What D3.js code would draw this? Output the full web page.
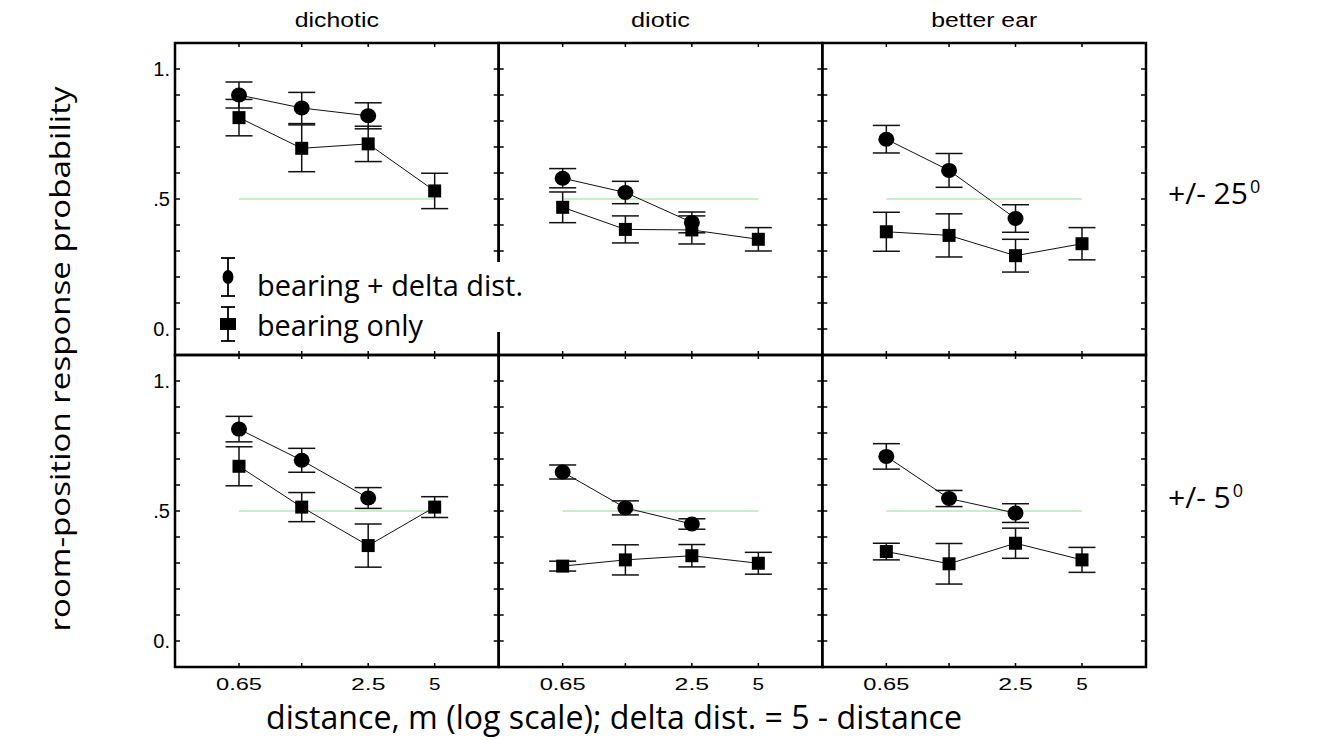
<!DOCTYPE html>
<html lang="en">
<head>
<meta charset="utf-8">
<title>room-position response probability</title>
<script src="https://d3js.org/d3.v7.min.js"></script>
<style>
  body { margin: 0; background: #fff; }
  .tick-label { font-family: "Liberation Sans", Arial, sans-serif; fill: #000; }
  .big { font-family: "Open Sans", sans-serif; fill: #000; }
</style>
</head>
<body>
<svg width="1321" height="740"></svg>
<script>
  // categories
  var distances = [0.65, 1.25, 2.5, 5];
  var distLabels = ["0.65", "", "2.5", "5"];
  var columns = ["dichotic", "diotic", "better ear"];
  var rowLabels = ["+/- 25", "+/- 5"];
  var yTickLabels = ["1.", ".5", "0."];

  // bearing + delta dist. (circles, no point at 5 m) : [dichotic, diotic, better ear]
  var deltaMean25 = [[0.90, 0.85, 0.82], [0.58, 0.525, 0.41], [0.73, 0.61, 0.425]];
  var deltaErr25  = [[0.05, 0.06, 0.05], [0.037, 0.043, 0.04], [0.053, 0.065, 0.053]];
  var deltaMean5  = [[0.815, 0.695, 0.55], [0.65, 0.512, 0.45], [0.71, 0.548, 0.492]];
  var deltaErr5   = [[0.049, 0.046, 0.04], [0.027, 0.027, 0.02], [0.049, 0.031, 0.036]];

  // bearing only (squares)
  var bearMean25 = [[0.813, 0.695, 0.712, 0.531], [0.468, 0.383, 0.381, 0.345], [0.374, 0.36, 0.282, 0.328]];
  var bearErr25  = [[0.07, 0.09, 0.068, 0.068], [0.059, 0.052, 0.054, 0.045], [0.075, 0.083, 0.063, 0.062]];
  var bearMean5  = [[0.672, 0.515, 0.367, 0.515], [0.288, 0.312, 0.328, 0.299], [0.344, 0.297, 0.376, 0.312]];
  var bearErr5   = [[0.075, 0.056, 0.083, 0.04], [0.019, 0.058, 0.043, 0.042], [0.032, 0.078, 0.058, 0.048]];

  var deltaMean = [deltaMean25, deltaMean5], deltaErr = [deltaErr25, deltaErr5];
  var bearMean = [bearMean25, bearMean5], bearErr = [bearErr25, bearErr5];

  var svg = d3.select("svg");

  var x0 = 175, y0 = 43;
  var pw = (1146 - 175) / 3, ph = 312;

  var x = d3.scaleLog().domain([0.65, 5]).range([64, pw - 64]);
  var y = d3.scaleLinear().domain([-0.1, 1.1]).range([ph, 0]);
  var yTicks = d3.range(0, 11).map(function(i) { return i / 10; });

  var line = d3.line()
    .x(function(d) { return x(d.d); })
    .y(function(d) { return y(d.v); });

  function points(means, errs) {
    return means.map(function(v, i) { return {d: distances[i], v: v, e: errs[i]}; });
  }

  for (var r = 0; r < 2; r++) {
    for (var c = 0; c < 3; c++) {
      var g = svg.append("g")
        .attr("transform", "translate(" + (x0 + c * pw) + "," + (y0 + r * ph) + ")");

      // chance line at .5
      g.append("line")
        .attr("x1", x(distances[0])).attr("x2", x(distances[3]))
        .attr("y1", y(0.5)).attr("y2", y(0.5))
        .attr("stroke", "#8ee38e").attr("stroke-width", 1);

      var sq = points(bearMean[r][c], bearErr[r][c]);
      var ci = points(deltaMean[r][c], deltaErr[r][c]);

      [sq, ci].forEach(function(pts) {
        g.append("path").datum(pts)
          .attr("d", line).attr("fill", "none")
          .attr("stroke", "#111").attr("stroke-width", 1);
        var eb = g.append("g").selectAll("g").data(pts).enter().append("g")
          .attr("stroke", "#111").attr("stroke-width", 1.5);
        eb.append("line")
          .attr("x1", function(d) { return x(d.d); }).attr("x2", function(d) { return x(d.d); })
          .attr("y1", function(d) { return y(d.v - d.e); }).attr("y2", function(d) { return y(d.v + d.e); });
        [-1, 1].forEach(function(s) {
          eb.append("line")
            .attr("x1", function(d) { return x(d.d) - 13.5; }).attr("x2", function(d) { return x(d.d) + 13.5; })
            .attr("y1", function(d) { return y(d.v + s * d.e); }).attr("y2", function(d) { return y(d.v + s * d.e); });
        });
      });

      g.append("g").selectAll("rect").data(sq).enter().append("rect")
        .attr("x", function(d) { return x(d.d) - 6.5; })
        .attr("y", function(d) { return y(d.v) - 6.5; })
        .attr("width", 13).attr("height", 13).attr("fill", "#000");

      g.append("g").selectAll("ellipse").data(ci).enter().append("ellipse")
        .attr("cx", function(d) { return x(d.d); })
        .attr("cy", function(d) { return y(d.v); })
        .attr("rx", 8).attr("ry", 7.5).attr("fill", "#000");

      // inner ticks
      var tk = g.append("g").attr("stroke", "#000").attr("stroke-width", 1.5);
      yTicks.forEach(function(t) {
        tk.append("line").attr("x1", 0).attr("x2", 5).attr("y1", y(t)).attr("y2", y(t));
        tk.append("line").attr("x1", pw - 5).attr("x2", pw).attr("y1", y(t)).attr("y2", y(t));
      });
      distances.forEach(function(d) {
        tk.append("line").attr("x1", x(d)).attr("x2", x(d)).attr("y1", 0).attr("y2", 4);
        tk.append("line").attr("x1", x(d)).attr("x2", x(d)).attr("y1", ph - 4).attr("y2", ph);
      });

      g.append("rect")
        .attr("width", pw).attr("height", ph)
        .attr("fill", "none").attr("stroke", "#000").attr("stroke-width", 2.5);

      if (c === 0) {
        [1, 0.5, 0].forEach(function(t, i) {
          g.append("text").attr("class", "tick-label")
            .attr("x", -5).attr("y", y(t) + 7)
            .attr("text-anchor", "end").attr("font-size", 20)
            .text(yTickLabels[i]);
        });
      }
      if (r === 1) {
        distances.forEach(function(d, i) {
          if (!distLabels[i]) return;
          g.append("text").attr("class", "tick-label")
            .attr("x", x(d)).attr("y", ph + 23)
            .attr("text-anchor", "middle").attr("font-size", 17)
            .attr("textLength", distLabels[i].length * 11.5)
            .attr("lengthAdjust", "spacingAndGlyphs")
            .text(distLabels[i]);
        });
      }
    }
  }

  // column titles
  var titleW = [84, 59, 106];
  columns.forEach(function(t, c) {
    svg.append("text").attr("class", "tick-label")
      .attr("x", x0 + c * pw + pw / 2).attr("y", 27)
      .attr("text-anchor", "middle").attr("font-size", 20)
      .attr("textLength", titleW[c]).attr("lengthAdjust", "spacingAndGlyphs")
      .text(t);
  });

  // row labels
  rowLabels.forEach(function(t, r) {
    var tx = svg.append("text").attr("class", "big")
      .attr("x", 1168).attr("y", [204, 508][r]).attr("font-size", 30);
    tx.append("tspan").text(t);
    tx.append("tspan").attr("dy", -11).attr("dx", 2).attr("font-size", 18).text("0");
  });

  // axis titles
  svg.append("text").attr("class", "big")
    .attr("transform", "translate(70,359) rotate(-90)")
    .attr("text-anchor", "middle").attr("font-size", 28)
    .attr("textLength", 545).attr("lengthAdjust", "spacingAndGlyphs")
    .text("room-position response probability");

  svg.append("text").attr("class", "big")
    .attr("x", 614).attr("y", 729)
    .attr("text-anchor", "middle").attr("font-size", 33)
    .attr("textLength", 696).attr("lengthAdjust", "spacingAndGlyphs")
    .text("distance, m (log scale); delta dist. = 5 - distance");

  // legend
  var lg = svg.append("g");
  lg.append("rect").attr("x", 212).attr("y", 262).attr("width", 318).attr("height", 70).attr("fill", "#fff");
  var legItems = [
    {label: "bearing + delta dist.", cy: 277, e: 19, w: 266, shape: "circle"},
    {label: "bearing only", cy: 324, e: 17, w: 166, shape: "square"}
  ];
  legItems.forEach(function(it, i) {
    var s = lg.append("g").attr("stroke", "#000").attr("stroke-width", 1.8);
    s.append("line").attr("x1", 228).attr("x2", 228).attr("y1", it.cy - it.e).attr("y2", it.cy + it.e);
    s.append("line").attr("x1", 221).attr("x2", 235).attr("y1", it.cy - it.e).attr("y2", it.cy - it.e);
    s.append("line").attr("x1", 221).attr("x2", 235).attr("y1", it.cy + it.e).attr("y2", it.cy + it.e);
    if (it.shape === "circle") {
      lg.append("ellipse").attr("cx", 228).attr("cy", it.cy).attr("rx", 5.5).attr("ry", 7).attr("fill", "#000");
    } else {
      lg.append("rect").attr("x", 220).attr("y", it.cy - 6).attr("width", 16).attr("height", 12).attr("fill", "#000");
    }
    lg.append("text").attr("class", "big")
      .attr("x", 257).attr("y", [296, 336][i]).attr("font-size", 29)
      .attr("textLength", it.w).attr("lengthAdjust", "spacingAndGlyphs")
      .text(it.label);
  });
</script>
</body>
</html>
